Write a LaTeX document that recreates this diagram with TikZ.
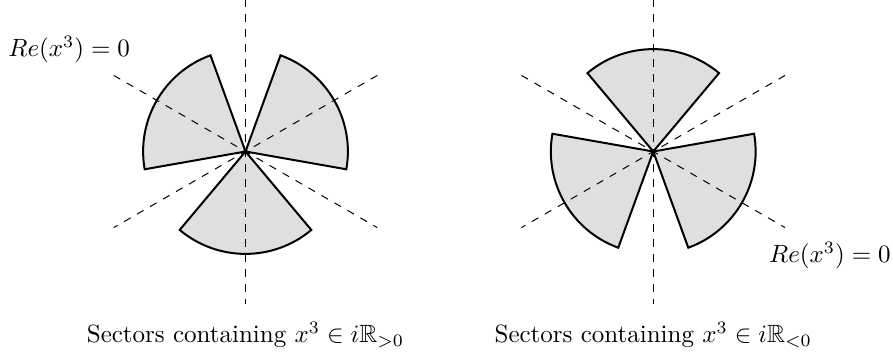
\documentclass[tikz,border=0pt]{standalone}
\usepackage{amssymb}
\usetikzlibrary{positioning,calc}
\tikzset{
	cubeSector/.style={
		draw,
		thick,
		fill=gray!25
	},
	cubeAxis/.style={dashed, thin},
	cubeLabel/.style={inner sep=2pt},
	cubeCaption/.style={anchor=base, inner sep=2pt}
}

\begin{document}
\begin{tikzpicture}

	\useasboundingbox (-3.453,-2.876) rectangle (9.107,2.131);

	% Centres
	\coordinate (lc) at (0,0);
	\coordinate (rc) at (5.735,0);

	% Sectors with x^3 in iR_{>0}
	\foreach \a in {30,150,270}
		\draw[cubeSector] (lc) -- ++(\a-40:1.44) arc[start angle=\a-40, end angle=\a+40, radius=1.44] -- cycle;

	% Sectors with x^3 in iR_{<0}
	\foreach \a in {90,210,330}
		\draw[cubeSector] (rc) -- ++(\a-40:1.44) arc[start angle=\a-40, end angle=\a+40, radius=1.44] -- cycle;

	% Lines Re(x^3)=0
	\foreach \c in {lc,rc}
		\foreach \a in {30,90,150}
			\draw[cubeAxis] ($(\c)+(\a:2.14)$) -- ($(\c)+(\a+180:2.14)$);

	% Labels
	\node[cubeLabel] (lzero) at (-2.48,1.43) {$Re(x^3)=0$};
	\node[cubeLabel] (rzero) at (8.22,-1.456) {$Re(x^3)=0$};

	\node[cubeCaption] (lcap) at (0,-2.69) {Sectors containing $x^3\in i\mathbb{R}_{>0}$};
	\node[cubeCaption] (rcap) at (5.735,-2.69) {Sectors containing $x^3\in i\mathbb{R}_{<0}$};

\end{tikzpicture}
\end{document}
